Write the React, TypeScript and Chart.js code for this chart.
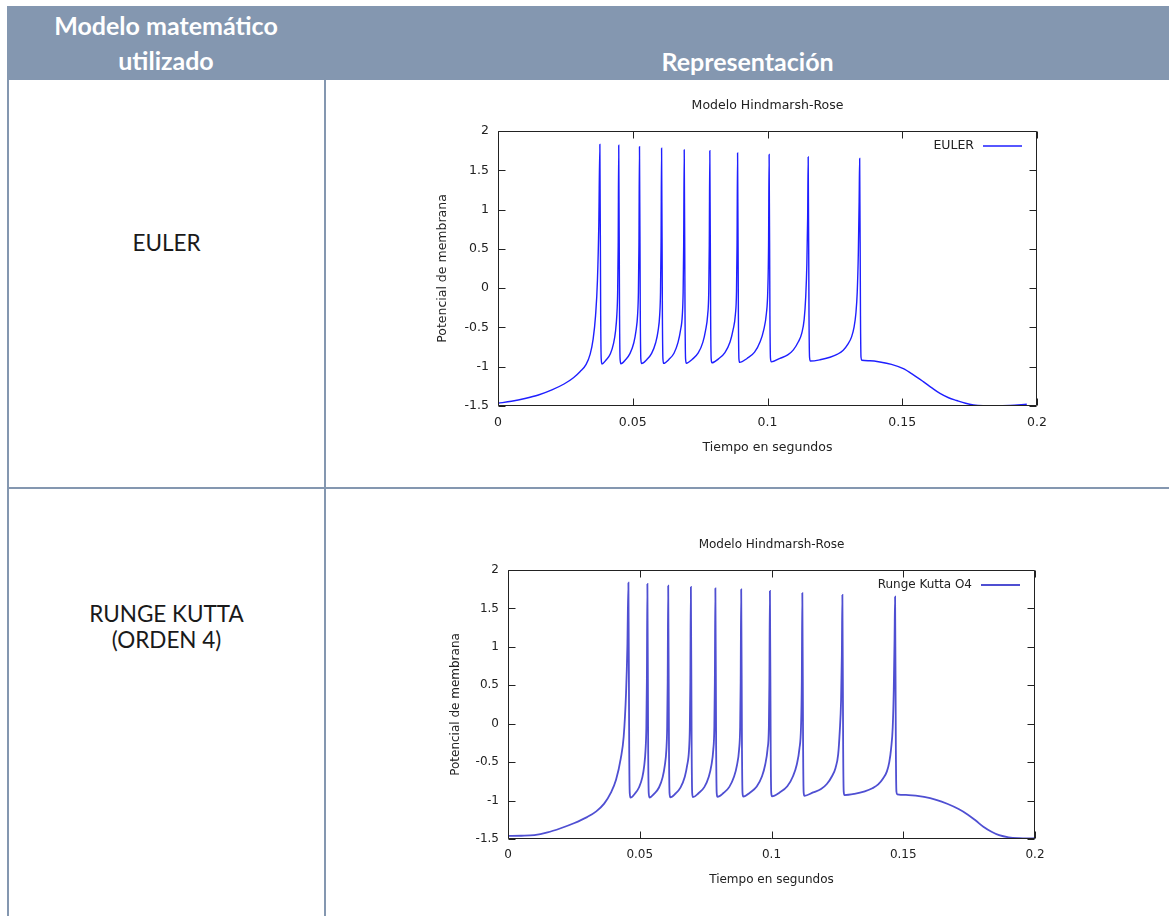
import React, { useEffect, useRef } from 'react';
import { Chart, registerables } from 'chart.js';

Chart.register(...registerables);

// ---------- text ----------
const headerCol1 = ['Modelo matemático', 'utilizado'];
const headerCol2 = 'Representación';
const rowEuler = ['EULER'];
const rowRk4 = ['RUNGE KUTTA', '(ORDEN 4)'];

const chartTitle = 'Modelo Hindmarsh-Rose';
const xAxisTitle = 'Tiempo en segundos';
const yAxisTitle = 'Potencial de membrana';

// ---------- ticks ----------
const xTickValues = [0, 0.05, 0.1, 0.15, 0.2];
const xTickLabels = ['0', '0.05', '0.1', '0.15', '0.2'];
const yTickValues = [-1.5, -1, -0.5, 0, 0.5, 1, 1.5, 2];
const yTickLabels = ['-1.5', '-1', '-0.5', '0', '0.5', '1', '1.5', '2'];

// ---------- series (time s, membrane potential) ----------
const eulerLabel = 'EULER';
const eulerPoints: [number, number][] = [
  [0, -1.465], [0.005, -1.44], [0.01, -1.405], [0.015, -1.36], [0.02, -1.295], [0.0245, -1.22], [0.028, -1.14],
  [0.0305, -1.06], [0.0327, -0.97], [0.0342, -0.84], [0.0353, -0.65], [0.0362, -0.35], [0.0369, 0.1], [0.0374, 0.8], [0.0378, 1.83],
  [0.0381, -0.35], [0.0383, -0.9], [0.0386, -0.965], [0.0401, -0.915], [0.0417, -0.835], [0.0429, -0.7], [0.0436, -0.55], [0.0441, -0.34], [0.0444, -0.05], [0.0446, 0.55], [0.0448, 1.82],
  [0.0451, -0.35], [0.0453, -0.9], [0.0456, -0.962], [0.0473, -0.912], [0.049, -0.83], [0.0504, -0.695], [0.0512, -0.545], [0.0518, -0.34], [0.0521, -0.05], [0.0523, 0.55], [0.0525, 1.8],
  [0.0528, -0.35], [0.053, -0.9], [0.0533, -0.96], [0.0552, -0.91], [0.057, -0.83], [0.0585, -0.695], [0.0594, -0.545], [0.06, -0.34], [0.0603, -0.05], [0.0605, 0.55], [0.0607, 1.78],
  [0.061, -0.35], [0.0612, -0.9], [0.0615, -0.958], [0.0634, -0.908], [0.0653, -0.828], [0.0668, -0.69], [0.0677, -0.54], [0.0684, -0.34], [0.0687, -0.05], [0.0689, 0.55], [0.0691, 1.76],
  [0.0694, -0.35], [0.0696, -0.9], [0.0699, -0.955], [0.0721, -0.905], [0.0743, -0.825], [0.076, -0.69], [0.077, -0.54], [0.0778, -0.34], [0.0782, -0.05], [0.0784, 0.55], [0.0786, 1.75],
  [0.0789, -0.35], [0.0791, -0.9], [0.0794, -0.95], [0.0818, -0.9], [0.0842, -0.82], [0.0861, -0.685], [0.0872, -0.535], [0.0881, -0.33], [0.0885, -0.04], [0.0887, 0.55], [0.0889, 1.72],
  [0.0892, -0.35], [0.0894, -0.9], [0.0897, -0.945], [0.0924, -0.895], [0.0952, -0.815], [0.0973, -0.68], [0.0986, -0.53], [0.0996, -0.32], [0.1001, -0.04], [0.1004, 0.55], [0.1006, 1.7],
  [0.1009, -0.35], [0.1011, -0.89], [0.1014, -0.938], [0.1046, -0.894], [0.1075, -0.85], [0.1096, -0.785], [0.1115, -0.68], [0.1127, -0.575], [0.1136, -0.4], [0.1142, -0.1], [0.1146, 0.3], [0.1149, 0.9], [0.1151, 1.67],
  [0.1154, -0.35], [0.1156, -0.88], [0.1159, -0.928], [0.1195, -0.912], [0.1232, -0.88], [0.126, -0.84], [0.1281, -0.79], [0.1299, -0.71], [0.1312, -0.62], [0.1321, -0.5], [0.1328, -0.32], [0.1333, -0.05], [0.1337, 0.44], [0.134, 1.1], [0.1342, 1.65],
  [0.1345, -0.35], [0.1347, -0.88], [0.135, -0.918], [0.138, -0.925], [0.1417, -0.94], [0.146, -0.97], [0.1504, -1.025], [0.154, -1.1], [0.1578, -1.19], [0.161, -1.27],
  [0.164, -1.34], [0.1672, -1.395], [0.1702, -1.43], [0.1735, -1.465], [0.1764, -1.485], [0.18, -1.495], [0.185, -1.497], [0.19, -1.492], [0.1962, -1.478],
];

const rk4Label = 'Runge Kutta O4';
const rk4Points: [number, number][] = [
  [0, -1.46], [0.005, -1.458], [0.01, -1.45], [0.015, -1.415], [0.02, -1.36], [0.025, -1.295], [0.03, -1.215], [0.0335, -1.14],
  [0.0365, -1.04], [0.039, -0.9], [0.041, -0.73], [0.0428, -0.45], [0.0439, -0.17], [0.0448, 0.4], [0.0453, 1.0], [0.0457, 1.835],
  [0.046, -0.35], [0.0462, -0.9], [0.0465, -0.962], [0.0481, -0.912], [0.0497, -0.83], [0.051, -0.695], [0.0517, -0.545], [0.0522, -0.34], [0.0525, -0.05], [0.0527, 0.55], [0.0529, 1.818],
  [0.0532, -0.35], [0.0534, -0.9], [0.0537, -0.96], [0.0555, -0.91], [0.0573, -0.83], [0.0587, -0.695], [0.0595, -0.545], [0.0601, -0.34], [0.0604, -0.05], [0.0606, 0.55], [0.0608, 1.796],
  [0.0611, -0.35], [0.0613, -0.9], [0.0616, -0.958], [0.0636, -0.908], [0.0655, -0.828], [0.0671, -0.69], [0.068, -0.54], [0.0687, -0.34], [0.069, -0.05], [0.0692, 0.55], [0.0694, 1.78],
  [0.0697, -0.35], [0.0699, -0.9], [0.0702, -0.955], [0.0723, -0.905], [0.0745, -0.825], [0.0762, -0.69], [0.0772, -0.54], [0.0779, -0.34], [0.0783, -0.05], [0.0785, 0.55], [0.0787, 1.762],
  [0.079, -0.35], [0.0792, -0.9], [0.0795, -0.952], [0.0818, -0.902], [0.084, -0.822], [0.0858, -0.688], [0.0869, -0.538], [0.0877, -0.335], [0.0881, -0.045], [0.0883, 0.55], [0.0885, 1.749],
  [0.0888, -0.35], [0.089, -0.9], [0.0893, -0.948], [0.0918, -0.898], [0.0944, -0.818], [0.0964, -0.684], [0.0976, -0.534], [0.0985, -0.33], [0.099, -0.04], [0.0992, 0.55], [0.0994, 1.727],
  [0.0997, -0.35], [0.0999, -0.9], [0.1002, -0.944], [0.1031, -0.894], [0.106, -0.814], [0.1082, -0.68], [0.1096, -0.53], [0.1106, -0.325], [0.1112, -0.04], [0.1115, 0.55], [0.1117, 1.7],
  [0.112, -0.35], [0.1122, -0.89], [0.1125, -0.938], [0.1158, -0.894], [0.1188, -0.85], [0.121, -0.785], [0.123, -0.68], [0.1243, -0.575], [0.1253, -0.4], [0.1259, -0.1], [0.1264, 0.3], [0.1267, 0.9], [0.1269, 1.675],
  [0.1272, -0.35], [0.1274, -0.88], [0.1277, -0.928], [0.1315, -0.912], [0.1354, -0.88], [0.1383, -0.84], [0.1405, -0.79], [0.1424, -0.71], [0.1438, -0.62], [0.1447, -0.5], [0.1454, -0.32], [0.146, -0.05], [0.1464, 0.44], [0.1467, 1.1], [0.1469, 1.653],
  [0.1472, -0.35], [0.1474, -0.88], [0.1477, -0.918], [0.152, -0.928], [0.1579, -0.952], [0.1625, -0.99], [0.1669, -1.045], [0.171, -1.11], [0.1744, -1.18],
  [0.1775, -1.26], [0.1804, -1.34], [0.1835, -1.405], [0.1864, -1.45], [0.19, -1.478], [0.1939, -1.49], [0.197, -1.493], [0.2, -1.49],
];

// ---------- gnuplot-like frame / ticks / title / key ----------
const gnuplotPlugin = {
  id: 'gnuplotFrame',
  afterDatasetsDraw(chart: any, _args: any, opts: any) {
    const { ctx, chartArea, scales } = chart;
    const { left, right, top, bottom } = chartArea;
    const L = Math.round(left) + 0.5;
    const R = Math.round(right) - 0.5;
    const T = Math.round(top) + 0.5;
    const B = Math.round(bottom) - 0.5;
    ctx.save();
    ctx.strokeStyle = opts.frameColor;
    ctx.lineWidth = 1;
    ctx.beginPath();
    ctx.rect(L, T, R - L, B - T);
    const tl = opts.tickLen;
    scales.x.ticks.forEach((t: any) => {
      const px = Math.round(scales.x.getPixelForValue(t.value)) + 0.5;
      ctx.moveTo(px, B); ctx.lineTo(px, B - tl);
      ctx.moveTo(px, T); ctx.lineTo(px, T + tl);
    });
    scales.y.ticks.forEach((t: any) => {
      const py = Math.round(scales.y.getPixelForValue(t.value)) + 0.5;
      ctx.moveTo(L, py); ctx.lineTo(L + tl, py);
      ctx.moveTo(R, py); ctx.lineTo(R - tl, py);
    });
    ctx.stroke();

    // title
    ctx.fillStyle = opts.textColor;
    ctx.font = opts.font;
    ctx.textAlign = 'center';
    ctx.textBaseline = 'middle';
    ctx.fillText(opts.title, (left + right) / 2, opts.titleY);

    // key
    const ds = chart.data.datasets[0];
    const ky = top + opts.keyDy;
    ctx.textAlign = 'right';
    ctx.fillText(ds.label, right - opts.keyTextDx, ky);
    ctx.strokeStyle = ds.borderColor;
    ctx.lineWidth = ds.borderWidth;
    ctx.beginPath();
    ctx.moveTo(right - opts.keyLineStart, ky);
    ctx.lineTo(right - opts.keyLineEnd, ky);
    ctx.stroke();
    ctx.restore();
  },
};

type ChartProps = {
  points: [number, number][];
  label: string;
  color: string;
  lineWidth: number;
  left: number;
  top: number;
  width: number;
  height: number;
  padTop: number;
  padRight: number;
  yAxisWidth: number;
  xAxisHeight: number;
  fontSize: number;
  textColor: string;
  yTitlePad: number;
  xTitlePad: number;
  titleY: number;
};

function HRChart(p: ChartProps) {
  const ref = useRef<HTMLCanvasElement>(null);
  useEffect(() => {
    if (!ref.current) return;
    const family = '"DejaVu Sans", sans-serif';
    const font = { family, size: p.fontSize, lineHeight: 1.2 };
    const chart = new Chart(ref.current, {
      type: 'line',
      data: {
        datasets: [
          {
            label: p.label,
            data: p.points.map(([x, y]) => ({ x, y })),
            borderColor: p.color,
            borderWidth: p.lineWidth,
            pointRadius: 0,
            fill: false,
            cubicInterpolationMode: 'monotone',
          },
        ],
      },
      options: {
        animation: false,
        responsive: false,
        maintainAspectRatio: false,
        layout: { padding: { top: p.padTop, right: p.padRight, left: 0, bottom: 0 } },
        plugins: {
          legend: { display: false },
          title: { display: false },
          tooltip: { enabled: false },
          gnuplotFrame: {
            frameColor: '#222',
            tickLen: 7,
            textColor: p.textColor,
            font: `${p.fontSize}px ${family}`,
            title: chartTitle,
            titleY: p.titleY,
            keyDy: 15,
            keyTextDx: 63,
            keyLineStart: 54,
            keyLineEnd: 15,
          },
        } as any,
        scales: {
          x: {
            type: 'linear',
            min: 0,
            max: 0.2,
            grid: { display: false, drawTicks: false },
            border: { display: false },
            afterBuildTicks: (s: any) => {
              s.ticks = xTickValues.map((value) => ({ value }));
            },
            afterFit: (s: any) => {
              s.height = p.xAxisHeight;
            },
            ticks: {
              callback: (_v: any, i: number) => xTickLabels[i],
              padding: 9,
              font,
              color: p.textColor,
              maxRotation: 0,
              autoSkip: false,
            },
            title: {
              display: true,
              text: xAxisTitle,
              font,
              color: p.textColor,
              padding: { top: 0, bottom: p.xTitlePad },
            },
          },
          y: {
            type: 'linear',
            min: -1.5,
            max: 2,
            grid: { display: false, drawTicks: false },
            border: { display: false },
            afterBuildTicks: (s: any) => {
              s.ticks = yTickValues.map((value) => ({ value }));
            },
            afterFit: (s: any) => {
              s.width = p.yAxisWidth;
            },
            ticks: {
              callback: (_v: any, i: number) => yTickLabels[i],
              padding: 9,
              font,
              color: p.textColor,
              autoSkip: false,
            },
            title: {
              display: true,
              text: yAxisTitle,
              font,
              color: p.textColor,
              padding: { top: p.yTitlePad, bottom: 0 },
            },
          },
        },
      } as any,
      plugins: [gnuplotPlugin as any],
    });
    return () => chart.destroy();
  }, []);
  return (
    <canvas
      ref={ref}
      width={p.width}
      height={p.height}
      style={{ position: 'absolute', left: p.left, top: p.top, width: p.width, height: p.height }}
    />
  );
}

const border = '#8497B0';

export default function App() {
  const headerText: React.CSSProperties = {
    position: 'absolute',
    color: '#ffffff',
    fontFamily: 'Lato, "Open Sans", sans-serif',
    fontWeight: 700,
    fontSize: 25,
    lineHeight: '30px',
    textAlign: 'center',
    whiteSpace: 'nowrap',
  };
  const cellText: React.CSSProperties = {
    position: 'absolute',
    left: 9,
    width: 315,
    color: '#1a1a1a',
    fontFamily: 'Lato, "Open Sans", sans-serif',
    fontSize: 22.5,
    lineHeight: '26px',
    textAlign: 'center',
    whiteSpace: 'nowrap',
  };
  return (
    <div
      style={{
        position: 'absolute',
        left: 0,
        top: 0,
        width: 1169,
        height: 916,
        overflow: 'hidden',
        background: '#ffffff',
      }}
    >
      {/* header band */}
      <div style={{ position: 'absolute', left: 7, top: 6, width: 1162, height: 74, background: border }} />
      <div style={{ ...headerText, left: 7, width: 318, top: 10 }}>{headerCol1[0]}</div>
      <div style={{ ...headerText, left: 7, width: 318, top: 45 }}>{headerCol1[1]}</div>
      <div style={{ ...headerText, left: 326, width: 843, top: 46 }}>{headerCol2}</div>

      {/* table rules */}
      <div style={{ position: 'absolute', left: 7, top: 80, width: 2, height: 836, background: border }} />
      <div style={{ position: 'absolute', left: 324, top: 80, width: 2, height: 836, background: border }} />
      <div style={{ position: 'absolute', left: 7, top: 487, width: 1162, height: 2, background: border }} />

      {/* row labels */}
      <div style={{ ...cellText, top: 230 }}>{rowEuler[0]}</div>
      <div style={{ ...cellText, top: 601 }}>
        {rowRk4[0]}
        <br />
        {rowRk4[1]}
      </div>

      <HRChart
        points={eulerPoints}
        label={eulerLabel}
        color="#1f1fff"
        lineWidth={1.4}
        left={430}
        top={80}
        width={630}
        height={376}
        padTop={51}
        padRight={23}
        yAxisWidth={68}
        xAxisHeight={50}
        fontSize={12.5}
        textColor="#222"
        yTitlePad={5.5}
        xTitlePad={0.5}
        titleY={25.7}
      />
      <HRChart
        points={rk4Points}
        label={rk4Label}
        color="#4f4fd2"
        lineWidth={1.8}
        left={440}
        top={520}
        width={620}
        height={369}
        padTop={50}
        padRight={25}
        yAxisWidth={68}
        xAxisHeight={50}
        fontSize={12}
        textColor="#222"
        yTitlePad={8.8}
        xTitlePad={1.8}
        titleY={25}
      />
    </div>
  );
}
